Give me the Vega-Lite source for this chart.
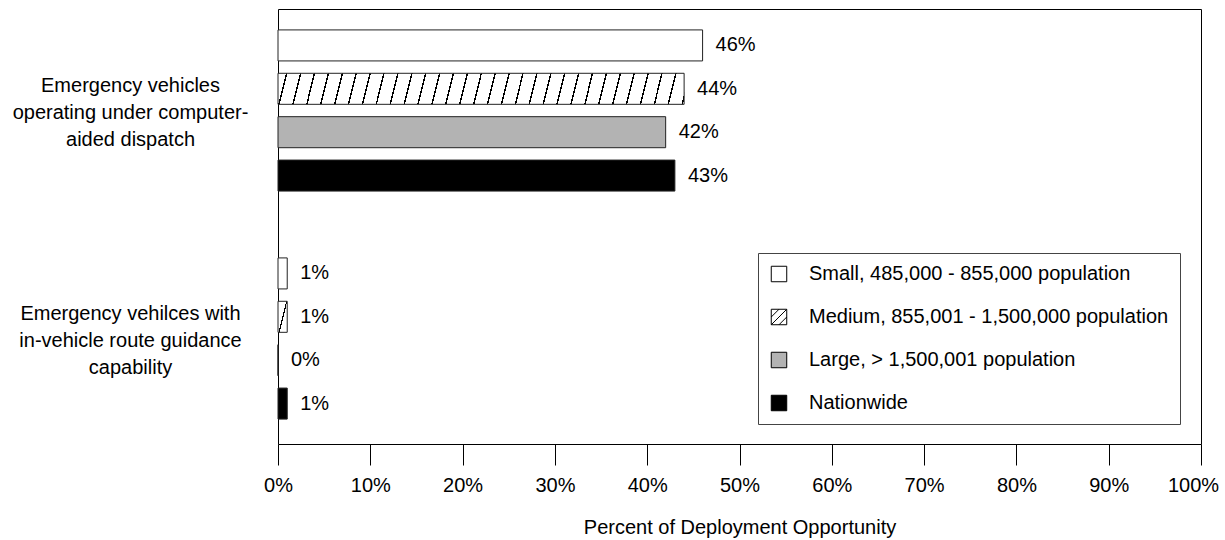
{
  "$schema": "https://vega.github.io/schema/vega-lite/v6.json",
  "width": 923,
  "height": 435,
  "autosize": {"type": "none"},
  "padding": {"left": 278, "top": 9, "right": 24, "bottom": 96},
  "background": "white",
  "config": {
    "font": "Liberation Sans",
    "view": {"stroke": "black", "strokeWidth": 1},
    "axis": {"labelColor": "black", "tickColor": "black", "titleColor": "black", "grid": false, "domain": false, "labelFontSize": 20, "titleFontSize": 20, "titleFontWeight": "normal"},
    "text": {"color": "black"}
  },
  "data": {
    "values": [
      {"cat": "Emergency vehicles operating under computer-aided dispatch", "group": "Small, 485,000 - 855,000 population", "value": 0.46},
      {"cat": "Emergency vehicles operating under computer-aided dispatch", "group": "Medium, 855,001 - 1,500,000 population", "value": 0.44},
      {"cat": "Emergency vehicles operating under computer-aided dispatch", "group": "Large, > 1,500,001 population", "value": 0.42},
      {"cat": "Emergency vehicles operating under computer-aided dispatch", "group": "Nationwide", "value": 0.43},
      {"cat": "Emergency vehilces with in-vehicle route guidance capability", "group": "Small, 485,000 - 855,000 population", "value": 0.01},
      {"cat": "Emergency vehilces with in-vehicle route guidance capability", "group": "Medium, 855,001 - 1,500,000 population", "value": 0.01},
      {"cat": "Emergency vehilces with in-vehicle route guidance capability", "group": "Large, > 1,500,001 population", "value": 0.0},
      {"cat": "Emergency vehilces with in-vehicle route guidance capability", "group": "Nationwide", "value": 0.01}
    ]
  },
  "encoding": {
    "y": {
      "field": "cat", "type": "nominal",
      "sort": ["Emergency vehicles operating under computer-aided dispatch", "Emergency vehilces with in-vehicle route guidance capability"],
      "scale": {"range": [-12.5, 443.5], "paddingInner": 0, "paddingOuter": 0},
      "axis": {
        "title": null, "ticks": false, "tickSize": 0, "labelPadding": 148, "labelAlign": "center", "labelBaseline": "middle",
        "labelLimit": 300, "labelLineHeight": 27, "labelOffset": -25,
        "labelExpr": "datum.value == 'Emergency vehicles operating under computer-aided dispatch' ? ['Emergency vehicles', 'operating under computer-', 'aided dispatch'] : ['Emergency vehilces with', 'in-vehicle route guidance', 'capability']"
      }
    },
    "yOffset": {
      "field": "group", "type": "nominal",
      "sort": ["Small, 485,000 - 855,000 population", "Medium, 855,001 - 1,500,000 population", "Large, > 1,500,001 population", "Nationwide"],
      "scale": {"paddingInner": 0.285, "paddingOuter": 0.77}
    }
  },
  "layer": [
    {
      "mark": {"type": "bar", "stroke": "#222", "strokeWidth": 1},
      "encoding": {
        "x": {
          "field": "value", "type": "quantitative",
          "scale": {"domain": [0, 1], "nice": false},
          "axis": {
            "format": ".0%", "values": [0, 0.1, 0.2, 0.3, 0.4, 0.5, 0.6, 0.7, 0.8, 0.9, 1], "tickSize": 21, "labelPadding": 10, "labelFlush": false,
            "labelOffset": {"condition": {"test": "datum.value >= 1", "value": -8}, "value": 0},
            "title": "Percent of Deployment Opportunity", "titlePadding": 22
          }
        },
        "fill": {
          "condition": [
            {"test": "datum.group === 'Medium, 855,001 - 1,500,000 population' && datum.value > 0.1",
             "value": {"gradient": "linear", "x1": 0, "y1": 0, "x2": 1.02, "y2": 0.01934, "stops": [
              {"offset": 0, "color": "#fff"},
              {"offset": 0.0192, "color": "#fff"}, {"offset": 0.0192, "color": "#000"}, {"offset": 0.0228, "color": "#000"}, {"offset": 0.0228, "color": "#fff"},
              {"offset": 0.0527, "color": "#fff"}, {"offset": 0.0527, "color": "#000"}, {"offset": 0.0563, "color": "#000"}, {"offset": 0.0563, "color": "#fff"},
              {"offset": 0.0863, "color": "#fff"}, {"offset": 0.0863, "color": "#000"}, {"offset": 0.0899, "color": "#000"}, {"offset": 0.0899, "color": "#fff"},
              {"offset": 0.1198, "color": "#fff"}, {"offset": 0.1198, "color": "#000"}, {"offset": 0.1234, "color": "#000"}, {"offset": 0.1234, "color": "#fff"},
              {"offset": 0.1534, "color": "#fff"}, {"offset": 0.1534, "color": "#000"}, {"offset": 0.1570, "color": "#000"}, {"offset": 0.1570, "color": "#fff"},
              {"offset": 0.1869, "color": "#fff"}, {"offset": 0.1869, "color": "#000"}, {"offset": 0.1905, "color": "#000"}, {"offset": 0.1905, "color": "#fff"},
              {"offset": 0.2205, "color": "#fff"}, {"offset": 0.2205, "color": "#000"}, {"offset": 0.2241, "color": "#000"}, {"offset": 0.2241, "color": "#fff"},
              {"offset": 0.2540, "color": "#fff"}, {"offset": 0.2540, "color": "#000"}, {"offset": 0.2576, "color": "#000"}, {"offset": 0.2576, "color": "#fff"},
              {"offset": 0.2876, "color": "#fff"}, {"offset": 0.2876, "color": "#000"}, {"offset": 0.2912, "color": "#000"}, {"offset": 0.2912, "color": "#fff"},
              {"offset": 0.3211, "color": "#fff"}, {"offset": 0.3211, "color": "#000"}, {"offset": 0.3247, "color": "#000"}, {"offset": 0.3247, "color": "#fff"},
              {"offset": 0.3546, "color": "#fff"}, {"offset": 0.3546, "color": "#000"}, {"offset": 0.3582, "color": "#000"}, {"offset": 0.3582, "color": "#fff"},
              {"offset": 0.3882, "color": "#fff"}, {"offset": 0.3882, "color": "#000"}, {"offset": 0.3918, "color": "#000"}, {"offset": 0.3918, "color": "#fff"},
              {"offset": 0.4217, "color": "#fff"}, {"offset": 0.4217, "color": "#000"}, {"offset": 0.4253, "color": "#000"}, {"offset": 0.4253, "color": "#fff"},
              {"offset": 0.4553, "color": "#fff"}, {"offset": 0.4553, "color": "#000"}, {"offset": 0.4589, "color": "#000"}, {"offset": 0.4589, "color": "#fff"},
              {"offset": 0.4888, "color": "#fff"}, {"offset": 0.4888, "color": "#000"}, {"offset": 0.4924, "color": "#000"}, {"offset": 0.4924, "color": "#fff"},
              {"offset": 0.5224, "color": "#fff"}, {"offset": 0.5224, "color": "#000"}, {"offset": 0.5260, "color": "#000"}, {"offset": 0.5260, "color": "#fff"},
              {"offset": 0.5559, "color": "#fff"}, {"offset": 0.5559, "color": "#000"}, {"offset": 0.5595, "color": "#000"}, {"offset": 0.5595, "color": "#fff"},
              {"offset": 0.5895, "color": "#fff"}, {"offset": 0.5895, "color": "#000"}, {"offset": 0.5931, "color": "#000"}, {"offset": 0.5931, "color": "#fff"},
              {"offset": 0.6230, "color": "#fff"}, {"offset": 0.6230, "color": "#000"}, {"offset": 0.6266, "color": "#000"}, {"offset": 0.6266, "color": "#fff"},
              {"offset": 0.6566, "color": "#fff"}, {"offset": 0.6566, "color": "#000"}, {"offset": 0.6602, "color": "#000"}, {"offset": 0.6602, "color": "#fff"},
              {"offset": 0.6901, "color": "#fff"}, {"offset": 0.6901, "color": "#000"}, {"offset": 0.6937, "color": "#000"}, {"offset": 0.6937, "color": "#fff"},
              {"offset": 0.7236, "color": "#fff"}, {"offset": 0.7236, "color": "#000"}, {"offset": 0.7272, "color": "#000"}, {"offset": 0.7272, "color": "#fff"},
              {"offset": 0.7572, "color": "#fff"}, {"offset": 0.7572, "color": "#000"}, {"offset": 0.7608, "color": "#000"}, {"offset": 0.7608, "color": "#fff"},
              {"offset": 0.7907, "color": "#fff"}, {"offset": 0.7907, "color": "#000"}, {"offset": 0.7943, "color": "#000"}, {"offset": 0.7943, "color": "#fff"},
              {"offset": 0.8243, "color": "#fff"}, {"offset": 0.8243, "color": "#000"}, {"offset": 0.8279, "color": "#000"}, {"offset": 0.8279, "color": "#fff"},
              {"offset": 0.8578, "color": "#fff"}, {"offset": 0.8578, "color": "#000"}, {"offset": 0.8614, "color": "#000"}, {"offset": 0.8614, "color": "#fff"},
              {"offset": 0.8914, "color": "#fff"}, {"offset": 0.8914, "color": "#000"}, {"offset": 0.8950, "color": "#000"}, {"offset": 0.8950, "color": "#fff"},
              {"offset": 0.9249, "color": "#fff"}, {"offset": 0.9249, "color": "#000"}, {"offset": 0.9285, "color": "#000"}, {"offset": 0.9285, "color": "#fff"},
              {"offset": 0.9585, "color": "#fff"}, {"offset": 0.9585, "color": "#000"}, {"offset": 0.9621, "color": "#000"}, {"offset": 0.9621, "color": "#fff"},
              {"offset": 0.9920, "color": "#fff"}, {"offset": 0.9920, "color": "#000"}, {"offset": 0.9956, "color": "#000"}, {"offset": 0.9956, "color": "#fff"},
              {"offset": 1, "color": "#fff"}
             ]}},
            {"test": "datum.group === 'Medium, 855,001 - 1,500,000 population' && datum.value <= 0.1",
             "value": {"gradient": "linear", "x1": 0, "y1": 0, "x2": 1.1, "y2": 0.917, "stops": [
              {"offset": 0, "color": "#fff"},
              {"offset": 0.47, "color": "#fff"}, {"offset": 0.47, "color": "#000"}, {"offset": 0.54, "color": "#000"}, {"offset": 0.54, "color": "#fff"},
              {"offset": 1, "color": "#fff"}
             ]}}
          ],
          "field": "group", "type": "nominal",
          "sort": ["Small, 485,000 - 855,000 population", "Medium, 855,001 - 1,500,000 population", "Large, > 1,500,001 population", "Nationwide"],
          "scale": {
            "domain": ["Small, 485,000 - 855,000 population", "Medium, 855,001 - 1,500,000 population", "Large, > 1,500,001 population", "Nationwide"],
            "range": ["#ffffff", "#fffffe", "#b3b3b3", "#000000"]
          },
          "legend": {
            "title": null, "orient": "none", "legendX": 480, "legendY": 244,
            "symbolType": "square", "symbolSize": 240, "symbolStrokeColor": "#000", "symbolStrokeWidth": 1, "symbolOpacity": 1,
            "labelFontSize": 20, "labelColor": "black", "labelOffset": 20, "labelLimit": 420,
            "rowPadding": 23, "padding": 11, "strokeColor": "#444", "fillColor": "white",
            "encoding": {
              "symbols": {
                "stroke": {"value": "#000"},
                "strokeWidth": {"value": 1},
                "shape": {
                  "condition": {"test": "datum.value === 'Medium, 855,001 - 1,500,000 population'", "value": "M-1,-1H1V1H-1Z M-1,0L0,-1 M-1,1L1,-1 M0,1L1,0"},
                  "value": "square"
                }
              }
            }
          }
        }
      }
    },
    {
      "mark": {"type": "text", "align": "left", "baseline": "middle", "dx": 13, "fontSize": 20, "color": "black"},
      "encoding": {
        "x": {"field": "value", "type": "quantitative"},
        "text": {"field": "value", "type": "quantitative", "format": ".0%"}
      }
    }
  ]
}
